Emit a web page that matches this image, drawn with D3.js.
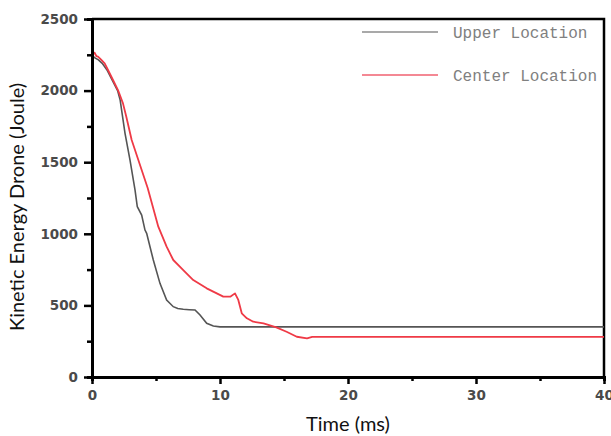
<!DOCTYPE html>
<html>
<head>
<meta charset="utf-8">
<script src="https://cdn.jsdelivr.net/npm/d3@7"></script>
<style>
  body { margin: 0; background: #fff; }
  svg { display: block; }
</style>
</head>
<body>
<div id="chart"></div>
<script>
// values
var upperTime   = [0, 0.2, 0.5, 0.8, 1.2, 1.6, 2.0, 2.2, 2.58, 2.97, 3.36, 3.54, 3.88, 4.14, 4.27, 4.79, 5.31, 5.83, 6.35, 6.7, 7.13, 7.6, 8.05, 8.44, 8.96, 9.48, 10.0, 40];
var upperEnergy = [2250, 2230, 2215, 2190, 2140, 2070, 2000, 1934, 1702, 1515, 1306, 1189, 1131, 1026, 1003, 817, 654, 538, 491, 478, 473, 470, 468, 433, 375, 356, 350, 350];

var centerTime   = [0, 0.05, 0.2, 0.35, 0.47, 0.73, 0.99, 1.25, 1.64, 2.03, 2.42, 2.68, 3.1, 3.62, 4.35, 5.18, 5.83, 6.35, 7.13, 7.91, 8.96, 10.26, 10.8, 11.17, 11.43, 11.7, 12.1, 12.6, 13.4, 14.4, 15.2, 16.0, 16.8, 17.2, 40];
var centerEnergy = [2330, 2250, 2265, 2240, 2237, 2214, 2190, 2144, 2074, 2004, 1911, 1818, 1655, 1515, 1320, 1050, 910, 817, 747, 677, 619, 561, 561, 584, 538, 445, 410, 386, 375, 347, 316, 281, 270, 280, 280];

var xTicks = [0, 10, 20, 30, 40];
var xMinor = [5, 15, 25, 35];
var yTicks = [0, 500, 1000, 1500, 2000, 2500];
var yMinor = [250, 750, 1250, 1750, 2250];

var seriesNames = ["Upper Location", "Center Location"];
var seriesColors = ["#555555", "#ef3a46"];

var width = 611, height = 436;
var margin = {left: 92, right: 7, top: 19, bottom: 59};

var svg = d3.select("#chart").append("svg")
    .attr("width", width)
    .attr("height", height);

var x = d3.scaleLinear().domain([0, 40]).range([margin.left, width - margin.right]);
var y = d3.scaleLinear().domain([0, 2500]).range([height - margin.bottom, margin.top]);

// frame (top + right)
svg.append("path")
    .attr("d", "M" + x(0) + "," + y(2500) + "H" + x(40) + "V" + y(0))
    .attr("fill", "none")
    .attr("stroke", "#000")
    .attr("stroke-width", 2.5);

// data lines
var line = d3.line()
    .x(function (d) { return x(d[0]); })
    .y(function (d) { return y(d[1]); });

var upper = upperTime.map(function (t, i) { return [t, upperEnergy[i]]; });
var center = centerTime.map(function (t, i) { return [t, centerEnergy[i]]; });

svg.append("path").datum(upper)
    .attr("d", line)
    .attr("fill", "none")
    .attr("stroke", seriesColors[0])
    .attr("stroke-width", 1.6);

svg.append("path").datum(center)
    .attr("d", line)
    .attr("fill", "none")
    .attr("stroke", seriesColors[1])
    .attr("stroke-width", 1.8)
    .attr("stroke-linejoin", "round");

// axes
var fmt = d3.format("d");

function styleAxis(g) {
    g.select(".domain").attr("stroke", "#000").attr("stroke-width", 3);
    g.selectAll(".tick line").attr("stroke", "#000").attr("stroke-width", 2.5);
    g.selectAll(".tick text")
        .attr("fill", "#4a4a4a")
        .style("font-family", "DejaVu Sans")
        .style("font-weight", "bold")
        .style("font-size", "13.5px");
}

svg.append("g")
    .attr("transform", "translate(0," + y(0) + ")")
    .call(d3.axisBottom(x).tickValues(xMinor).tickSize(4).tickFormat(""))
    .call(styleAxis);

svg.append("g")
    .attr("transform", "translate(0," + y(0) + ")")
    .call(d3.axisBottom(x).tickValues(xTicks).tickSize(7).tickSizeOuter(0).tickPadding(6).tickFormat(fmt))
    .call(styleAxis);

svg.append("g")
    .attr("transform", "translate(" + x(0) + ",0)")
    .call(d3.axisLeft(y).tickValues(yMinor).tickSize(5).tickFormat(""))
    .call(styleAxis);

svg.append("g")
    .attr("transform", "translate(" + x(0) + ",0)")
    .call(d3.axisLeft(y).tickValues(yTicks).tickSize(8).tickSizeOuter(0).tickPadding(6).tickFormat(fmt))
    .call(styleAxis);

// axis titles
svg.append("text")
    .attr("transform", "translate(24," + 207 + ") rotate(-90)")
    .attr("text-anchor", "middle")
    .style("font-family", "Lato")
    .style("font-size", "20px")
    .attr("fill", "#111")
    .text("Kinetic Energy Drone (Joule)");

svg.append("text")
    .attr("x", x(20))
    .attr("y", 431)
    .attr("text-anchor", "middle")
    .style("font-family", "Lato")
    .style("font-size", "20px")
    .attr("fill", "#111")
    .text("Time (ms)");

// legend
var legend = svg.append("g");
var legendY = [32, 75];
seriesNames.forEach(function (name, i) {
    legend.append("line")
        .attr("x1", 362).attr("x2", 438)
        .attr("y1", legendY[i]).attr("y2", legendY[i])
        .attr("stroke", i === 0 ? seriesColors[0] : "#f06070")
        .attr("stroke-width", i === 0 ? 1.1 : 1.3);
    legend.append("text")
        .attr("x", 453)
        .attr("y", legendY[i])
        .attr("dy", "0.35em")
        .style("font-family", "Liberation Mono")
        .style("font-size", "16px")
        .attr("fill", "#808080")
        .text(name);
});
</script>
</body>
</html>
